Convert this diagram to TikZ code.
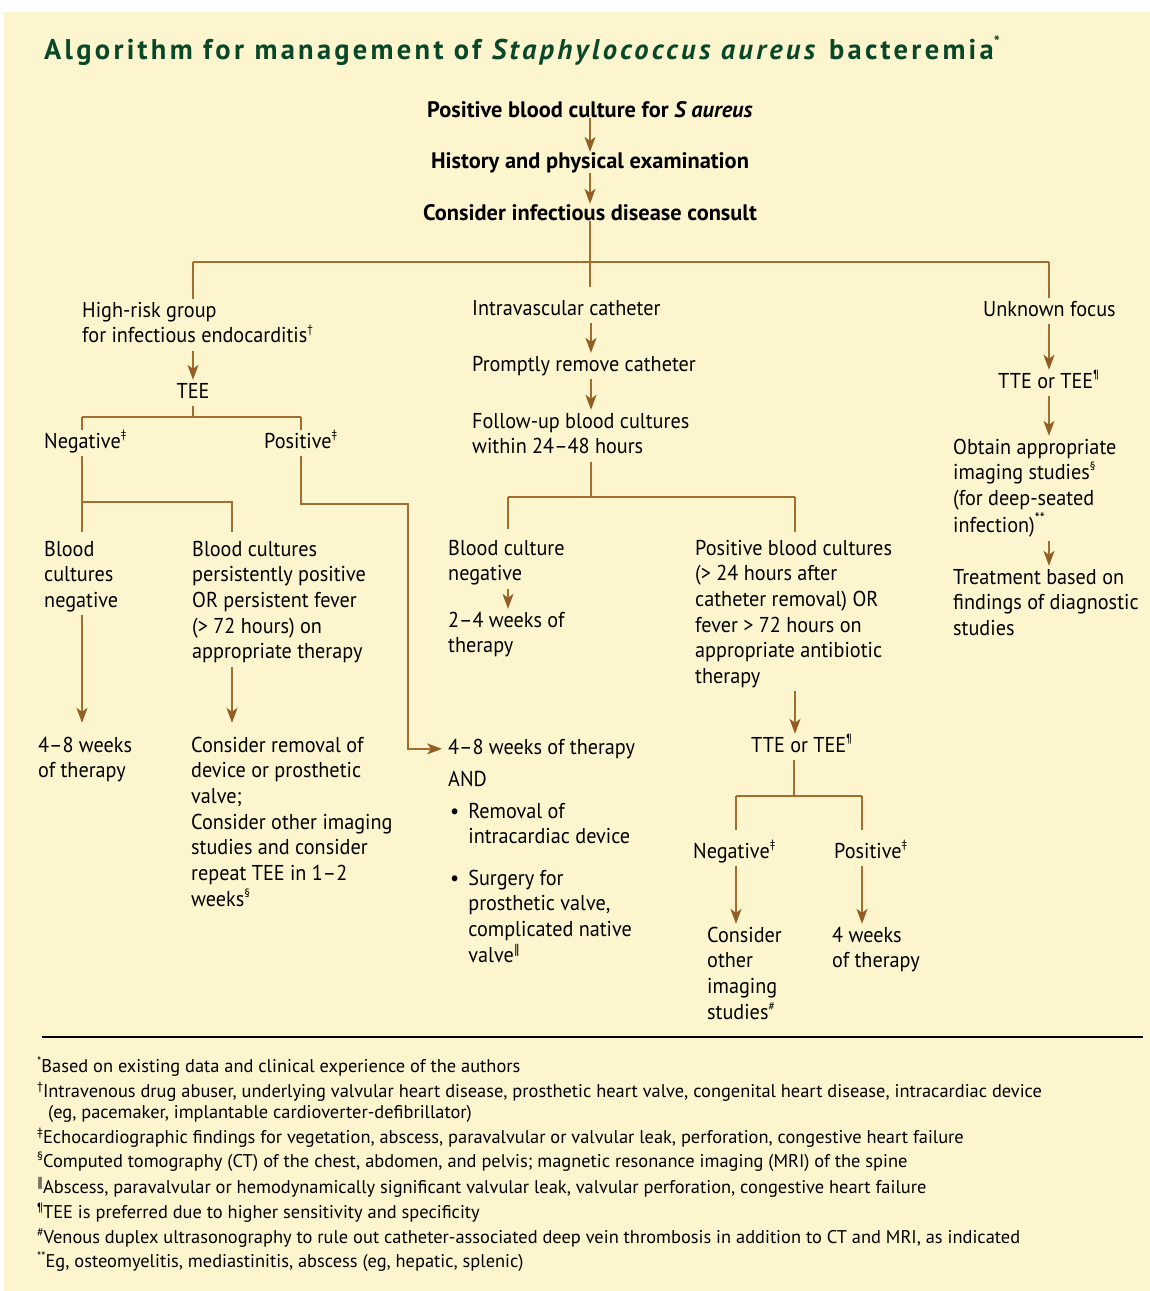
\documentclass[tikz,border=0pt]{standalone}
\usepackage{fontspec}
\setmainfont{PT Sans}
\newfontfamily\bodyf[FakeStretch=0.94]{PT Sans}
\newfontfamily\boldf{PT Sans}
\newfontfamily\titlef[LetterSpace=11.5]{PT Sans}
\newfontfamily\notef{PT Sans}
\newfontfamily\symf{DejaVu Sans}
\usetikzlibrary{arrows.meta}
\definecolor{bgc}{RGB}{253,245,206}
\definecolor{lnc}{RGB}{162,110,48}
\definecolor{arc}{RGB}{145,95,35}
\definecolor{ttl}{RGB}{8,72,40}
\newcommand\blk[1]{\begin{tabular}[t]{@{}l@{}}#1\end{tabular}}
\newcommand\sps[1]{\raisebox{0.42em}{\fontsize{12}{12}\selectfont #1}}
\newcommand\tsp[1]{\raisebox{0.4em}{\fontsize{16}{16}\selectfont #1}}
\newcommand\fsp[1]{\raisebox{0.38em}{\fontsize{12}{12}\selectfont #1}}
\newcommand\dbar{{\symf ‖}}
\tikzset{
  tx/.style={anchor=base west, inner sep=0pt, font=\bodyf\fontsize{21.5}{25.7}\selectfont},
  txb/.style={anchor=base, inner sep=0pt, font=\boldf\bfseries\fontsize{22.4}{25.7}\selectfont},
  fn/.style={anchor=base west, inner sep=0pt, font=\notef\fontsize{18.4}{22}\selectfont},
  ln/.style={draw=lnc, line width=1.3pt},
  arr/.style={ln, -{Stealth[length=15pt,width=11pt,inset=4pt,color=arc]}}
}
\begin{document}
\begin{tikzpicture}[x=1pt,y=-1pt]
\useasboundingbox (0,0) rectangle (1150,1291);
\fill[white] (0,0) rectangle (1150,1291);
\fill[bgc] (4,12) rectangle (1150,1291);

\node[anchor=base west, inner sep=0pt, text=ttl, font=\titlef\bfseries\fontsize{28.5}{32}\selectfont] (title) at (44,59)
  {Algorithm for management of \textit{Staphylococcus aureus} bacteremia\tsp{*}};

% top spine
\node[txb] (pbc) at (590,117) {Positive blood culture for \textit{S aureus}};
\node[txb] (hist) at (590,168) {History and physical examination};
\node[txb] (consult) at (590,220) {Consider infectious disease consult};

% left branch
\node[tx] (hr) at (82,317) {\blk{High-risk group\\for infectious endocarditis\sps{†}}};
\node[tx, anchor=base] (tee) at (193,398) {\blk{TEE}};
\node[tx] (neg1) at (44,448) {\blk{Negative\sps{‡}}};
\node[tx] (pos1) at (264,448) {\blk{Positive\sps{‡}}};
\node[tx] (bcn) at (44,556) {\blk{Blood\\cultures\\negative}};
\node[tx] (bcp) at (192,556) {\blk{Blood cultures\\persistently positive\\OR persistent fever\\(> 72 hours) on\\appropriate therapy}};
\node[tx] (w48a) at (38,752) {\blk{4–8 weeks\\of therapy}};
\node[tx] (crm) at (191,752) {\blk{Consider removal of\\device or prosthetic\\valve;\\Consider other imaging\\studies and consider\\repeat TEE in 1–2\\weeks\sps{§}}};

% middle branch
\node[tx] (iv) at (472,315) {\blk{Intravascular catheter}};
\node[tx] (pr) at (472,371) {\blk{Promptly remove catheter}};
\node[tx] (fu) at (472,428) {\blk{Follow-up blood cultures\\within 24–48 hours}};
\node[tx] (bcneg) at (448,555) {\blk{Blood culture\\negative}};
\node[tx] (w24) at (448,627) {\blk{2–4 weeks of\\therapy}};
\node[tx] (pbcs) at (695,555) {\blk{Positive blood cultures\\(> 24 hours after\\catheter removal) OR\\fever > 72 hours on\\appropriate antibiotic\\therapy}};
\node[tx] (w48b) at (448,754) {\blk{4–8 weeks of therapy}};
\node[tx] (and) at (448,786) {\blk{AND}};
\node[tx] (b1) at (450,818) {\begin{tabular}[t]{@{}l@{\hspace{9pt}}l@{}}•&Removal of\\&intracardiac device\end{tabular}};
\node[tx] (b2) at (450,885) {\begin{tabular}[t]{@{}l@{\hspace{9pt}}l@{}}•&Surgery for\\&prosthetic valve,\\&complicated native\\&valve\sps{\dbar}\end{tabular}};
\node[tx] (tte2) at (751,752) {\blk{TTE or TEE\sps{¶}}};
\node[tx] (neg2) at (693,858) {\blk{Negative\sps{‡}}};
\node[tx] (pos2) at (834,858) {\blk{Positive\sps{‡}}};
\node[tx] (coi) at (707,942) {\blk{Consider\\other\\imaging\\studies\sps{\#}}};
\node[tx] (w4) at (832,942) {\blk{4 weeks\\of therapy}};

% right branch
\node[tx] (uf) at (983,316) {\blk{Unknown focus}};
\node[tx] (tte1) at (998,388) {\blk{TTE or TEE\sps{¶}}};
\node[tx] (obt) at (953,454) {\blk{Obtain appropriate\\imaging studies\sps{§}\\(for deep-seated\\infection)\sps{\fontsize{15}{15}\selectfont **}}};
\node[tx] (tr) at (953,584) {\blk{Treatment based on\\findings of diagnostic\\studies}};

% junction coordinates
\coordinate (jA) at (590,262);
\coordinate (jAL) at (193,262);
\coordinate (jAR) at (1049,262);
\coordinate (jB) at (193,417);
\coordinate (jBL) at (82,417);
\coordinate (jBR) at (301,417);
\coordinate (jC) at (82,502);
\coordinate (jCR) at (232,502);
\coordinate (jD) at (301,504);
\coordinate (jE) at (408,504);
\coordinate (jF) at (591,497);
\coordinate (jFL) at (508,497);
\coordinate (jFR) at (795,497);
\coordinate (jG) at (794,796);
\coordinate (jGL) at (736,796);
\coordinate (jGR) at (862,796);

% top connectors
\draw[arr] (pbc.south -| jA) -- (hist.north -| jA);
\draw[arr] (hist.south -| jA) -- (consult.north -| jA);
\draw[ln] (consult.south -| jA) -- (jA);
\draw[ln] (jAL) -- (jAR);
\draw[ln] (jAL) -- (hr.north -| jAL);
\draw[ln, shorten >=10pt] (jA) -- (iv.north -| jA);
\draw[ln] (jAR) -- (uf.north -| jAR);

% left connectors
\draw[arr] (hr.south -| jB) -- (tee.north -| jB);
\draw[ln] (tee.south -| jB) -- (jB);
\draw[ln] (jBL) -- (jBR);
\draw[ln] (jBL) -- (neg1.north -| jBL);
\draw[ln] (jBR) -- (pos1.north -| jBR);
\draw[ln, shorten >=6pt] (neg1.south -| jC) -- (bcn.north -| jC);
\draw[ln, shorten >=6pt] (jC) -- (jCR) -- (bcp.north -| jCR);
\draw[arr, shorten >=11pt] (bcn.south -| jC) -- (w48a.north -| jC);
\draw[arr, shorten >=11pt] (bcp.south -| jCR) -- (crm.north -| jCR);
\draw[arr, shorten >=6pt] (pos1.south -| jD) -- (jD) -- (jE) -- (jE |- w48b.west) -- (w48b.west);

% middle connectors
\draw[arr] (iv.south -| jF) -- (pr.north -| jF);
\draw[arr] (pr.south -| jF) -- (fu.north -| jF);
\draw[ln] (fu.south -| jF) -- (jF);
\draw[ln] (jFL) -- (jFR);
\draw[ln, shorten >=8pt] (jFL) -- (bcneg.north -| jFL);
\draw[ln, shorten >=5pt] (jFR) -- (pbcs.north -| jFR);
\draw[arr] (bcneg.south -| jFL) -- (w24.north -| jFL);
\draw[arr] (pbcs.south -| jFR) -- (tte2.north -| jFR);
\draw[ln] (tte2.south -| jG) -- (jG);
\draw[ln] (jGL) -- (jGR);
\draw[ln, shorten >=10pt] (jGL) -- (neg2.north -| jGL);
\draw[ln, shorten >=10pt] (jGR) -- (pos2.north -| jGR);
\draw[arr] (neg2.south -| jGL) -- (coi.north -| jGL);
\draw[arr] (pos2.south -| jGR) -- (w4.north -| jGR);

% right connectors
\draw[arr] (uf.south -| jAR) -- (tte1.north -| jAR);
\draw[arr] (tte1.south -| jAR) -- (obt.north -| jAR);
\draw[arr] (obt.south -| jAR) -- (tr.north -| jAR);

% footnotes
\draw[black, line width=1.2pt] (42,1037) -- (1143,1037);
\node[fn] (f1) at (37,1072) {\fsp{*}Based on existing data and clinical experience of the authors};
\node[fn] (f2) at (37,1097) {\fsp{†}Intravenous drug abuser, underlying valvular heart disease, prosthetic heart valve, congenital heart disease, intracardiac device};
\node[fn] (f2b) at (48,1118) {(eg, pacemaker, implantable cardioverter-defibrillator)};
\node[fn] (f3) at (37,1143) {\fsp{‡}Echocardiographic findings for vegetation, abscess, paravalvular or valvular leak, perforation, congestive heart failure};
\node[fn] (f4) at (37,1167) {\fsp{§}Computed tomography (CT) of the chest, abdomen, and pelvis; magnetic resonance imaging (MRI) of the spine};
\node[fn] (f5) at (37,1193) {\fsp{\dbar}Abscess, paravalvular or hemodynamically significant valvular leak, valvular perforation, congestive heart failure};
\node[fn] (f6) at (37,1218) {\fsp{¶}TEE is preferred due to higher sensitivity and specificity};
\node[fn] (f7) at (37,1243) {\fsp{\#}Venous duplex ultrasonography to rule out catheter-associated deep vein thrombosis in addition to CT and MRI, as indicated};
\node[fn] (f8) at (37,1267) {\fsp{**}Eg, osteomyelitis, mediastinitis, abscess (eg, hepatic, splenic)};
\end{tikzpicture}
\end{document}
